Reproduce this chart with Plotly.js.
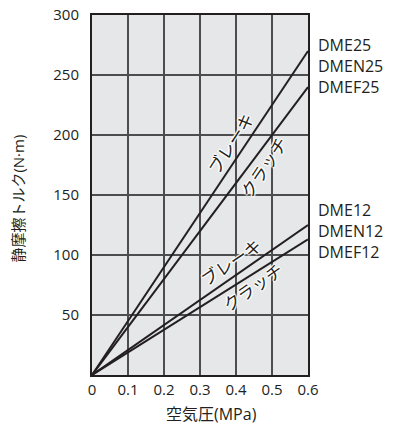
<!DOCTYPE html>
<html><head><meta charset="utf-8">
<script src="https://cdn.plot.ly/plotly-3.0.1.min.js"></script>
<style>body{margin:0;background:#fff}#c{width:398px;height:427px}</style>
</head><body><div id="c"></div>
<script>
const pressure = [0, 0.6];
const series = [
  {name: "25 ブレーキ", values: [0, 270]},
  {name: "25 クラッチ", values: [0, 240]},
  {name: "12 ブレーキ", values: [0, 125]},
  {name: "12 クラッチ", values: [0, 113]}
];
const xTicks = [0, 0.1, 0.2, 0.3, 0.4, 0.5, 0.6];
const xTickText = ["0", "0.1", "0.2", "0.3", "0.4", "0.5", "0.6"];
const yTicks = [50, 100, 150, 200, 250, 300];
const modelGroups = [
  {lines: ["DME25", "DMEN25", "DMEF25"], y: 257.5},
  {lines: ["DME12", "DMEN12", "DMEF12"], y: 120}
];
const lineLabels = [
  {text: "ブレーキ", x: 0.386, y: 193, angle: -57},
  {text: "クラッチ", x: 0.478, y: 173, angle: -56},
  {text: "ブレーキ", x: 0.386, y: 94, angle: -34},
  {text: "クラッチ", x: 0.447, y: 73, angle: -35}
];
const FONT = "'Open Sans', 'Noto Sans CJK JP', sans-serif";
const INK = "#231f20";
const halo = "1px 1px 1px #fff, -1px -1px 1px #fff, 1px -1px 1px #fff, -1px 1px 1px #fff, 0 0 3px #fff";

const traces = series.map(s => ({
  x: pressure, y: s.values, type: "scatter", mode: "lines", name: s.name,
  line: {color: INK, width: 2}, hoverinfo: "skip"
}));

const annotations = [];
modelGroups.forEach(g => annotations.push({
  text: g.lines.join("<br>"), x: 1.035, xref: "paper", y: g.y, yref: "y",
  xanchor: "left", yanchor: "middle", align: "left", showarrow: false,
  font: {family: FONT, size: 16, color: INK}
}));
lineLabels.forEach(l => annotations.push({
  text: l.text, x: l.x, y: l.y, xref: "x", yref: "y", textangle: l.angle,
  xanchor: "center", yanchor: "middle",
  showarrow: false, font: {family: FONT, size: 17, color: INK, shadow: halo}
}));
annotations.push({
  text: "静摩擦トルク(N·m)", xref: "paper", yref: "paper", x: -0.3426, y: 0.49,
  xanchor: "center", yanchor: "middle",
  textangle: -90, showarrow: false, font: {family: FONT, size: 15, color: INK}
});
annotations.push({
  text: "空気圧(MPa)", xref: "paper", yref: "paper", x: 0.551, y: -0.108,
  xanchor: "center", yanchor: "middle",
  showarrow: false, font: {family: FONT, size: 16, color: INK}
});

const layout = {
  width: 398, height: 427,
  margin: {l: 92, r: 90, t: 15, b: 52},
  paper_bgcolor: "#fff", plot_bgcolor: "#e6e7e8",
  showlegend: false,
  font: {family: FONT, color: INK, size: 15},
  xaxis: {
    range: [0, 0.6], tickvals: xTicks, ticktext: xTickText,
    showgrid: true, gridcolor: "#4d4d4f", gridwidth: 1.3,
    zeroline: false, showline: true, mirror: true, linecolor: INK, linewidth: 2,
    ticks: "", ticklabelstandoff: 0, tickfont: {size: 15, color: INK}, fixedrange: true
  },
  yaxis: {
    range: [0, 300], tickvals: yTicks,
    showgrid: true, gridcolor: "#4d4d4f", gridwidth: 1.3,
    zeroline: false, showline: true, mirror: true, linecolor: INK, linewidth: 2,
    ticks: "", ticklabelstandoff: 8, tickfont: {size: 15, color: INK}, fixedrange: true
  },
  annotations: annotations
};
Plotly.newPlot("c", traces, layout, {displayModeBar: false, staticPlot: true});
</script></body></html>
